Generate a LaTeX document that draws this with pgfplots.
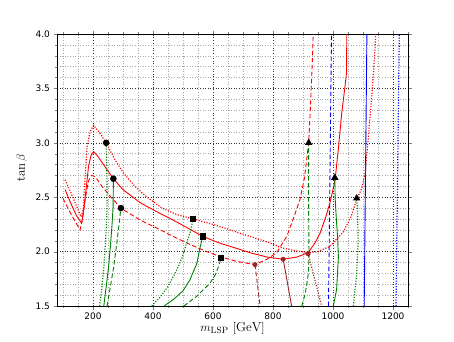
\documentclass[border=0pt]{standalone}
\usepackage{pgfplots}
\pgfplotsset{compat=1.18}
\usepackage{fontspec}
\newfontfamily\tickfont{DejaVu Sans}

\definecolor{mred}{rgb}{1,0,0}
\definecolor{mgreen}{rgb}{0,0.5,0}
\definecolor{mblue}{rgb}{0,0,1}
\definecolor{mbrown}{rgb}{0.62,0.15,0.15}

\tikzset{
  dsh/.style={dash pattern=on 4.5pt off 2.5pt},
  dtt/.style={line width=1.2pt, dash pattern=on 1.1pt off 1.6pt},
}

\begin{document}
\begin{tikzpicture}
\begin{axis}[
  scale only axis, width=351pt, height=272pt,
  xmin=80, xmax=1250, ymin=1.5, ymax=4.0,
  xtick={200,400,...,1200},
  minor xtick={100,150,...,1250},
  ytick={1.5,2.0,...,4.0},
  minor ytick={1.5,1.6,...,4.0},
  tick pos=both, tick align=outside,
  major tick length=3.5pt, minor tick length=2pt,
  grid=both,
  major grid style={black!80, line width=0.4pt, dash pattern=on 0.8pt off 1.8pt},
  minor grid style={black!35, line width=0.4pt, dash pattern=on 0.8pt off 1.8pt},
  axis line style={black, line width=0.8pt},
  scaled ticks=false,
  /pgf/number format/assume math mode=true,
  /pgf/number format/1000 sep={},
  ticklabel style={font=\tickfont\fontsize{9}{10}\selectfont},
  yticklabel style={/pgf/number format/.cd, fixed, fixed zerofill, precision=1},
  xlabel={$m_{\mathrm{LSP}}\ [\mathrm{GeV}]$},
  ylabel={$\tan\beta$},
  label style={font=\fontsize{13}{15}\selectfont},
  xlabel style={at={(axis description cs:0.5,-0.081)}, anchor=center},
  ylabel style={at={(axis description cs:-0.1,0.507)}, anchor=center},
  every axis plot/.append style={line width=0.9pt},
]
% blue
\addplot[mblue, dsh] coordinates {(985,1.5) (995,4.0)};
\addplot[mblue] coordinates {(1104,1.5) (1113,4.0)};
\addplot[mblue, dtt] coordinates {(1210,1.5) (1221,4.0)};

% red solid
\addplot[mred] coordinates {
(107,2.57) (125,2.45) (145,2.33) (162,2.26) (170,2.40) (178,2.60) (185,2.78)
(193,2.88) (202,2.92) (215,2.88) (235,2.80) (268,2.67) (300,2.57) (357,2.45)
(410,2.37) (467,2.29) (520,2.21) (566,2.14) (620,2.08) (690,2.02) (723,1.99)
(780,1.95) (834,1.93) (880,1.95) (917,1.99) (940,2.08) (957,2.17) (975,2.31)
(990,2.45) (1007,2.66) (1018,2.95) (1029,3.27) (1040,3.52) (1045,3.64) (1046,4.0)};
% red dotted
\addplot[mred, dtt] coordinates {
(107,2.66) (125,2.55) (145,2.42) (160,2.32) (167,2.38) (174,2.69) (180,2.96)
(190,3.10) (202,3.16) (220,3.10) (244,3.0) (270,2.86) (302,2.72) (340,2.60)
(380,2.50) (430,2.40) (480,2.34) (534,2.30) (600,2.25) (646,2.21) (700,2.16)
(734,2.13) (790,2.08) (823,2.04) (870,2.01) (917,1.99) (950,2.0) (990,2.05)
(1034,2.18) (1060,2.32) (1079,2.48) (1096,2.58) (1107,2.72) (1117,3.03)
(1129,3.42) (1140,3.85) (1142,4.0)};
% red dashed
\addplot[mred, dsh] coordinates {
(100,2.49) (120,2.38) (140,2.28) (157,2.20) (165,2.30) (175,2.50) (185,2.65)
(195,2.70) (207,2.69) (230,2.60) (260,2.50) (293,2.40) (357,2.29) (410,2.22)
(467,2.14) (520,2.07) (579,2.00) (627,1.95) (680,1.91) (740,1.88) (780,1.93)
(812,1.99) (846,2.14) (870,2.32) (890,2.48) (905,2.68) (919,3.0) (926,3.4)
(931,3.75) (934,4.0)};

% green, left group
\addplot[mgreen, dtt] coordinates {
(222,1.5) (229,1.65) (236,1.86) (241,2.05) (246,2.32) (247,2.5) (246,2.75) (244,3.0)};
\addplot[mgreen] coordinates {
(236,1.5) (245,1.7) (252,1.86) (258,2.05) (263,2.23) (267,2.41) (268,2.67)};
\addplot[mgreen, dsh] coordinates {
(247,1.5) (258,1.68) (269,1.86) (278,2.05) (286,2.23) (293,2.40)};
% green, middle group
\addplot[mgreen, dtt] coordinates {
(396,1.5) (423,1.58) (450,1.68) (479,1.83) (498,1.95) (512,2.08) (524,2.18) (534,2.30)};
\addplot[mgreen] coordinates {
(437,1.5) (468,1.56) (500,1.64) (523,1.74) (546,1.89) (557,2.04) (566,2.14)};
\addplot[mgreen, dsh] coordinates {
(503,1.5) (546,1.59) (590,1.71) (608,1.79) (618,1.86) (627,1.94)};
% green, right group
\addplot[mgreen, dsh] coordinates {
(896,1.5) (908,1.62) (918,1.80) (920,1.98) (919,2.3) (918,2.6) (919,3.0)};
\addplot[mgreen] coordinates {
(1001,1.5) (1012,1.65) (1018,1.95) (1015,2.15) (1012,2.26) (1007,2.5) (1006,2.68)};
\addplot[mgreen, dtt] coordinates {
(1068,1.5) (1079,1.80) (1084,2.11) (1081,2.41) (1079,2.49)};

% brown
\addplot[mbrown, dsh] coordinates {(740,1.88) (757,1.5)};
\addplot[mbrown] coordinates {(834,1.93) (862,1.5)};
\addplot[mbrown, dtt] coordinates {(917,1.98) (962,1.5)};

% markers
\addplot[only marks, mark=*, mark size=2.8pt, black] coordinates {(244,3.0) (268,2.67) (293,2.40)};
\addplot[only marks, mark=square*, mark size=2.6pt, black] coordinates {(534,2.30) (566,2.14) (627,1.94)};
\addplot[only marks, mark=triangle*, mark size=3.4pt, black] coordinates {(919,3.0) (1006,2.68) (1079,2.49)};
\addplot[only marks, mark=*, mark size=2pt, mbrown] coordinates {(740,1.88) (834,1.93) (917,1.98)};
\end{axis}
\path (-57pt,-35pt) rectangle (397pt,306pt);
\end{tikzpicture}
\end{document}
